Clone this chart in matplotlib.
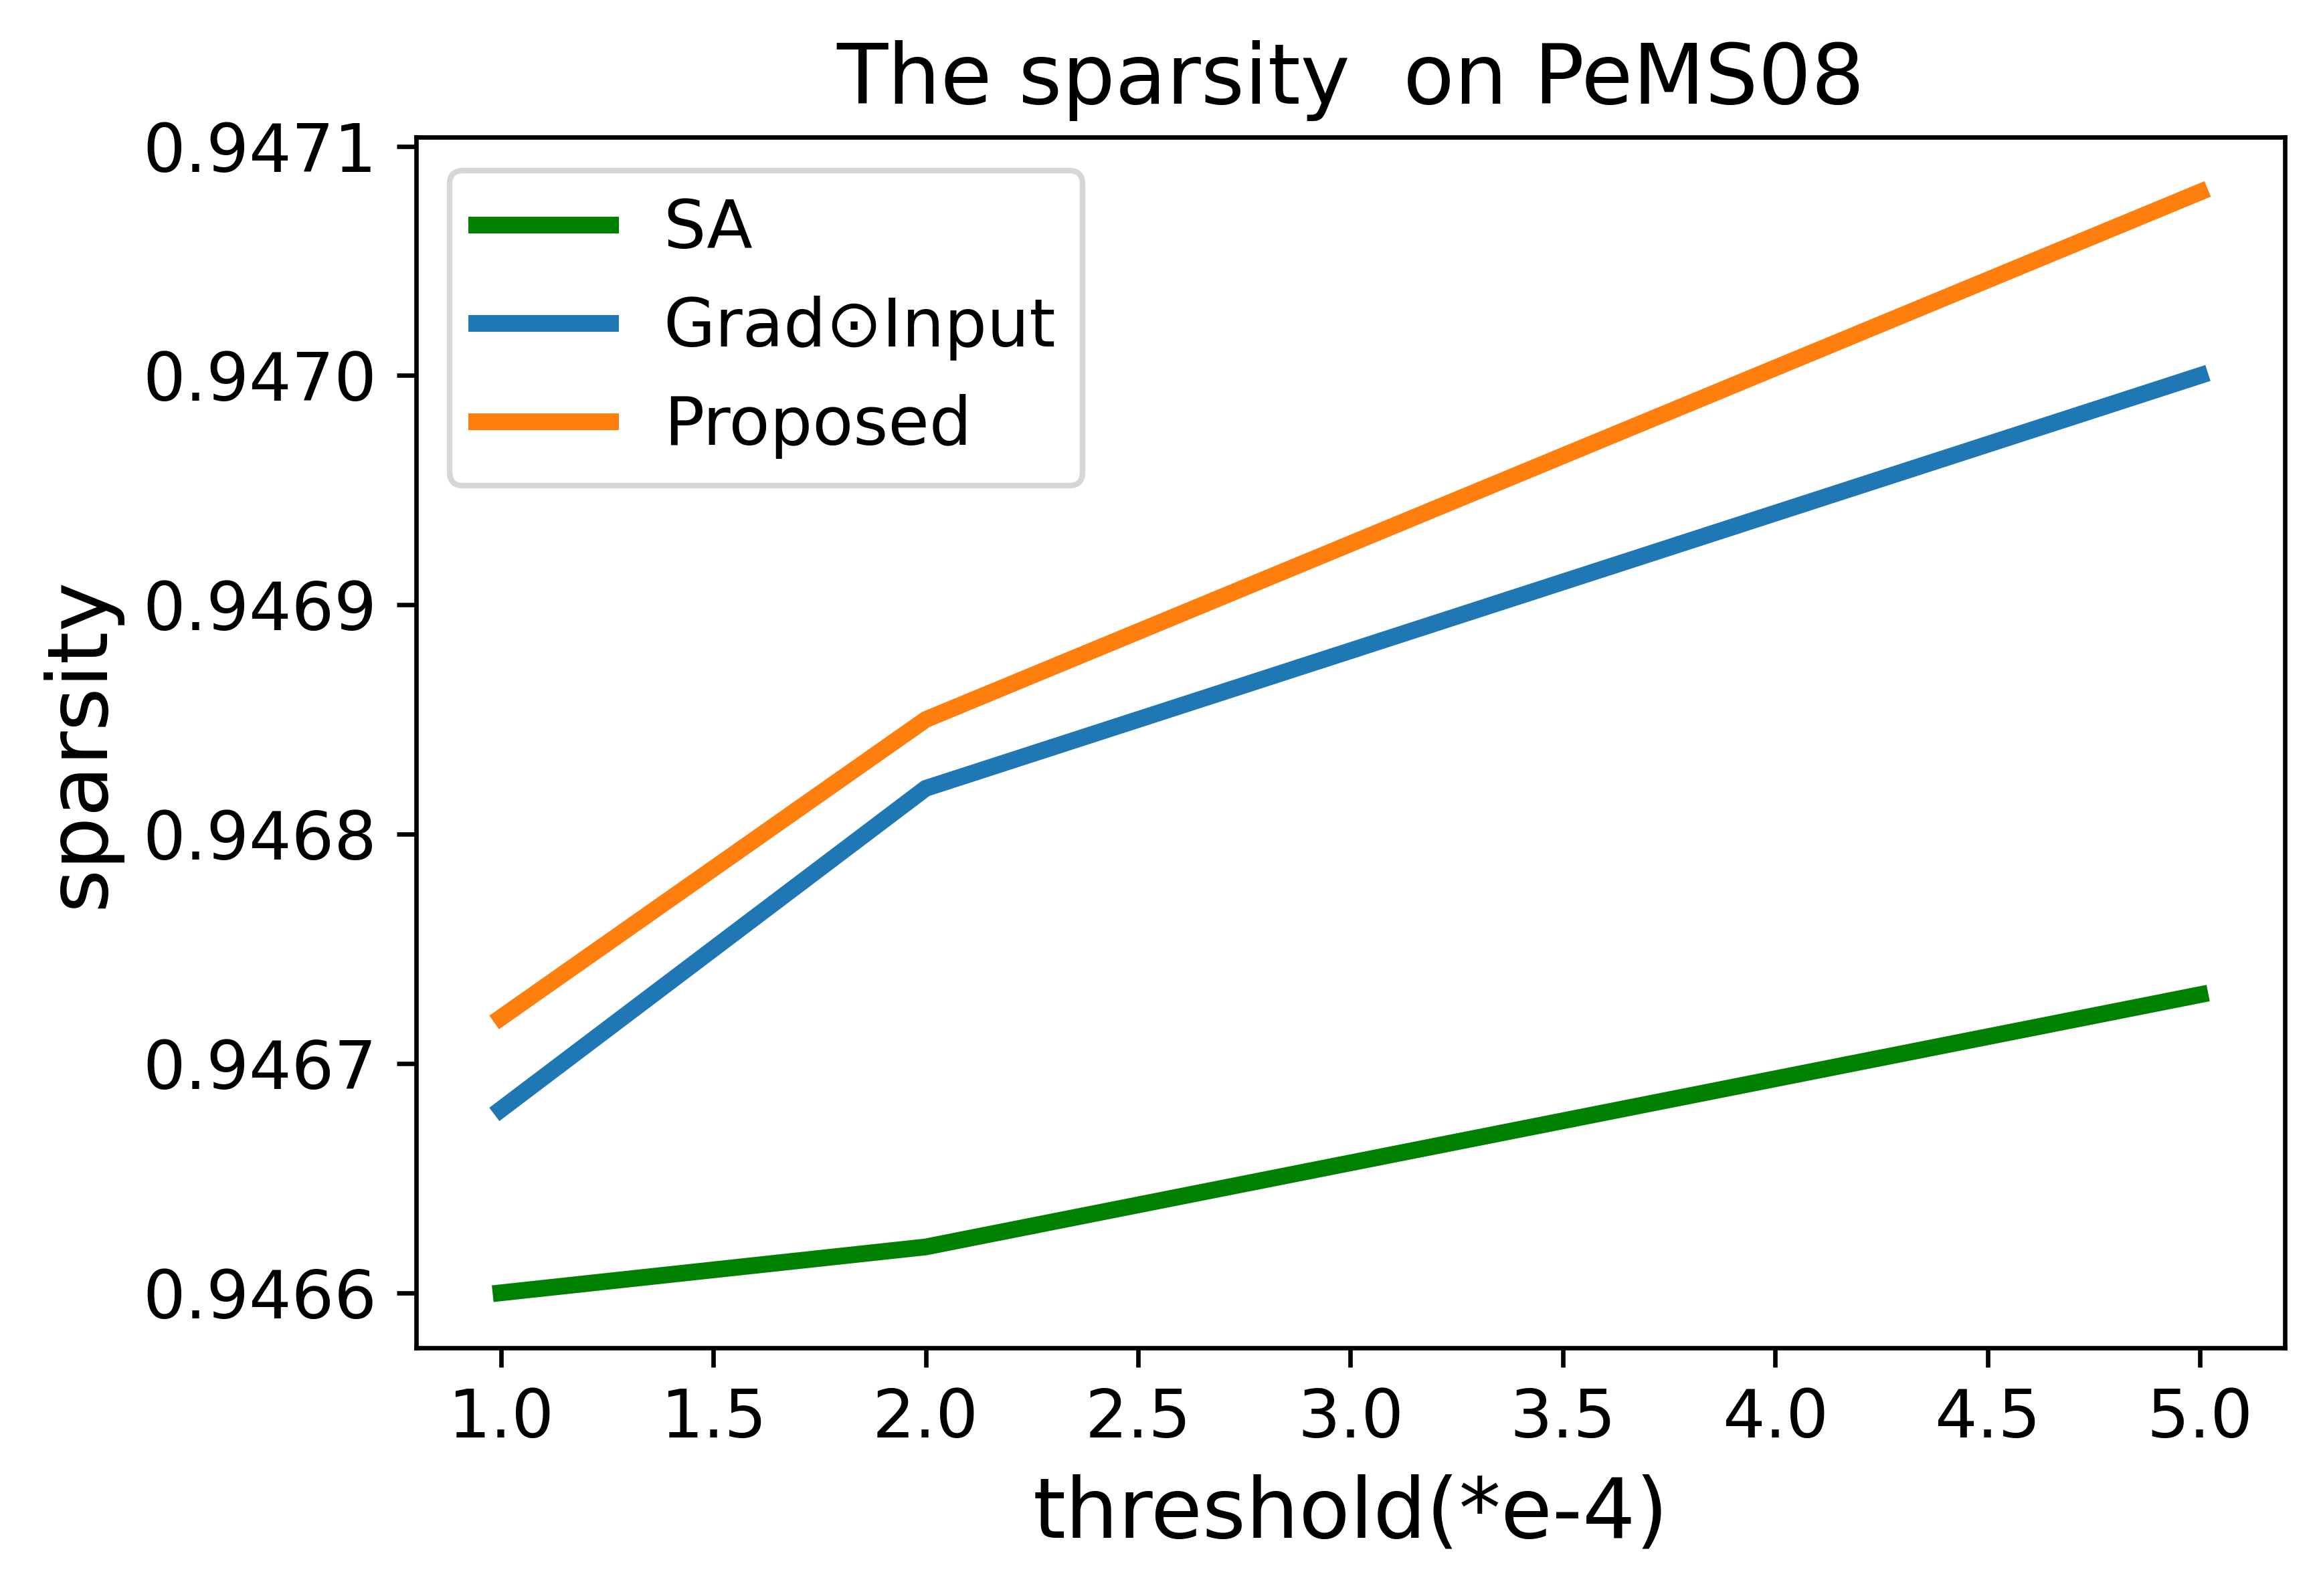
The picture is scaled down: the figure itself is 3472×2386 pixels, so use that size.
import matplotlib
matplotlib.use("Agg")
import matplotlib.pyplot as plt
from matplotlib.ticker import FormatStrFormatter

# ── data ─────────────────────────────────────────────────────────────────────
thresholds = [1.0, 2.0, 5.0]
sa = [0.94660, 0.94662, 0.94673]
grad_input = [0.94668, 0.94682, 0.94700]
proposed = [0.94672, 0.94685, 0.94708]

x_ticks = [1.0, 1.5, 2.0, 2.5, 3.0, 3.5, 4.0, 4.5, 5.0]
y_ticks = [0.9466, 0.9467, 0.9468, 0.9469, 0.9470, 0.9471]

# ── figure ───────────────────────────────────────────────────────────────────
fig = plt.figure(figsize=(3472 / 600, 2386 / 600), dpi=600)
ax = fig.add_axes([0.1791, 0.1555, 0.8045, 0.7586])

ax.plot(thresholds, sa, color="green", linewidth=3, label="SA")
ax.plot(thresholds, grad_input, color="tab:blue", linewidth=3, label="Grad\u2299Input")
ax.plot(thresholds, proposed, color="tab:orange", linewidth=3, label="Proposed")

ax.set_xticks(x_ticks)
ax.set_yticks(y_ticks)
ax.xaxis.set_major_formatter(FormatStrFormatter("%.1f"))
ax.yaxis.set_major_formatter(FormatStrFormatter("%.4f"))
ax.tick_params(labelsize=12)

ax.set_title("The sparsity  on PeMS08", fontsize=15)
ax.set_xlabel("threshold(*e-4)", fontsize=15)
ax.set_ylabel("sparsity", fontsize=15)
ax.legend(loc="upper left", fontsize=12)

fig.savefig("out.png", dpi=600)
